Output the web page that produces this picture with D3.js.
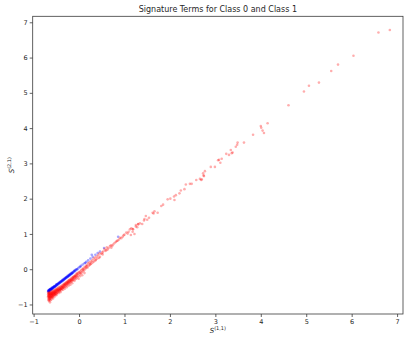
<!DOCTYPE html>
<html>
<head>
<meta charset="utf-8">
<script src="https://cdn.jsdelivr.net/npm/d3@7"></script>
<style>
  html, body { margin: 0; padding: 0; background: #fff; }
  svg { display: block; font-family: "DejaVu Sans", sans-serif; }
</style>
</head>
<body>
<svg id="chart" width="404" height="338"></svg>
<script>
// Class 0 signature terms: S(1,1) and S(2,1)
const class0X = [-0.68,-0.68,-0.67,-0.67,-0.66,-0.66,-0.65,-0.65,-0.64,-0.64,-0.63,-0.63,-0.62,-0.62,-0.61,-0.60,-0.60,-0.59,-0.58,-0.58,-0.57,-0.56,-0.55,-0.55,-0.54,-0.53,-0.52,-0.51,-0.50,-0.50,-0.49,-0.48,-0.47,-0.46,-0.45,-0.44,-0.43,-0.42,-0.41,-0.40,-0.39,-0.38,-0.37,-0.36,-0.35,-0.34,-0.33,-0.32,-0.31,-0.30,-0.29,-0.28,-0.27,-0.26,-0.25,-0.24,-0.23,-0.22,-0.21,-0.20,-0.19,-0.18,-0.17,-0.16,-0.15,-0.14,-0.12,-0.11,-0.10,-0.08,-0.07,-0.05,-0.02,0.01,0.04,0.08,0.12,0.16,0.20,0.25,0.30,0.36,0.41,0.46,0.28,0.86,0.55,
  -0.67,-0.66,-0.65,-0.63,-0.61,-0.59,-0.57,-0.54,-0.52,-0.49,-0.46,-0.43,-0.40,-0.37,-0.34,-0.31,-0.28,-0.25,-0.22,-0.19,-0.16,-0.13,-0.09,-0.04,0.03,0.14];
const class0Y = [-0.63,-0.61,-0.62,-0.60,-0.61,-0.59,-0.60,-0.58,-0.59,-0.57,-0.58,-0.56,-0.57,-0.55,-0.56,-0.55,-0.53,-0.54,-0.53,-0.51,-0.52,-0.50,-0.51,-0.49,-0.48,-0.49,-0.47,-0.46,-0.45,-0.43,-0.44,-0.42,-0.43,-0.41,-0.40,-0.38,-0.39,-0.37,-0.36,-0.34,-0.35,-0.33,-0.31,-0.32,-0.30,-0.28,-0.29,-0.27,-0.25,-0.26,-0.24,-0.22,-0.23,-0.21,-0.19,-0.20,-0.18,-0.16,-0.17,-0.15,-0.13,-0.14,-0.12,-0.10,-0.11,-0.09,-0.07,-0.06,-0.04,-0.03,-0.01,0.00,0.03,0.06,0.10,0.13,0.17,0.21,0.25,0.30,0.35,0.41,0.46,0.50,0.41,0.92,0.60,
  -0.64,-0.63,-0.62,-0.60,-0.58,-0.56,-0.54,-0.50,-0.49,-0.46,-0.43,-0.40,-0.37,-0.34,-0.31,-0.28,-0.25,-0.22,-0.19,-0.16,-0.13,-0.10,-0.06,-0.01,0.07,0.18];

// Class 1 signature terms: S(1,1) and S(2,1)
const class1X = [-0.68,-0.68,-0.68,-0.67,-0.67,-0.67,-0.66,-0.66,-0.66,-0.66,-0.65,-0.65,-0.65,-0.64,-0.64,-0.64,-0.64,-0.63,-0.63,-0.63,-0.62,-0.62,-0.62,-0.61,-0.61,-0.61,-0.60,-0.60,-0.60,-0.59,-0.59,-0.59,-0.58,-0.58,-0.58,-0.57,-0.57,-0.57,-0.56,-0.56,-0.56,-0.55,-0.55,-0.54,-0.54,-0.54,-0.53,-0.53,-0.52,-0.52,-0.52,-0.51,-0.51,-0.50,-0.50,-0.50,-0.49,-0.49,-0.48,-0.48,-0.47,-0.47,-0.46,-0.46,-0.45,-0.45,-0.44,-0.44,-0.43,-0.43,-0.42,-0.42,-0.41,-0.41,-0.40,-0.40,-0.39,-0.39,-0.38,-0.38,-0.37,-0.36,-0.36,-0.35,-0.35,-0.34,-0.34,-0.33,-0.32,-0.32,-0.31,-0.31,-0.30,-0.30,-0.29,-0.28,-0.28,-0.27,-0.27,-0.26,-0.26,-0.25,-0.24,-0.24,-0.23,-0.23,-0.22,-0.22,-0.21,-0.20,-0.20,-0.19,-0.19,-0.18,-0.18,-0.17,-0.16,-0.16,-0.15,-0.15,-0.14,-0.14,-0.13,-0.12,-0.12,-0.11,-0.10,-0.10,-0.09,-0.08,-0.08,-0.07,-0.06,-0.06,-0.05,-0.04,-0.03,-0.02,-0.02,-0.01,0.00,0.01,0.02,0.03,0.04,0.05,0.06,0.07,0.08,0.09,0.10,0.11,0.12,0.13,0.14,0.15,0.16,0.18,0.19,0.20,0.22,0.23,0.24,0.26,0.27,0.29,0.30,0.32,0.33,0.35,0.37,0.39,0.40,0.42,0.45,0.46,0.49,0.51,0.53,0.56,0.58,0.61,0.63,0.65,0.68,0.70,0.73,0.75,0.78,0.81,0.83,0.85,0.88,0.90,0.93,0.96,0.98,1.00,1.04,1.07,1.09,1.12,1.14,1.15,1.18,1.18,1.19,1.22,1.25,1.25,1.28,1.30,1.30,1.34,1.39,1.43,1.44,1.47,1.50,1.54,1.62,1.64,1.66,1.73,1.81,1.85,1.95,2.01,2.09,2.10,2.13,2.21,2.24,2.32,2.35,2.44,2.48,2.58,2.66,2.69,2.70,2.73,2.74,2.75,2.77,2.90,2.99,3.06,3.08,3.11,3.14,3.24,3.30,3.34,3.36,3.38,3.45,3.48,3.49,3.63,3.83,4.00,4.01,4.04,4.07,4.15,4.61,4.95,5.06,5.28,5.55,5.70,6.04,6.59,6.84,
  -0.68,-0.67,-0.67,-0.66,-0.66,-0.65,-0.65,-0.64,-0.63,-0.63,-0.62,-0.61,-0.61,-0.60,-0.59,-0.58,-0.57,-0.56,-0.55,-0.54,-0.53,-0.52,-0.51,-0.49,-0.48,-0.46,-0.45,-0.43,-0.41,-0.39,-0.37,-0.35,-0.33,-0.30,-0.27,-0.24,-0.21,-0.17,-0.13,-0.09,-0.05,0.02,0.09,0.17,0.25,0.36,0.44,0.52,0.60,0.71];
const class1Y = [-0.66,-0.72,-0.80,-0.69,-0.76,-0.85,-0.67,-0.74,-0.82,-0.90,-0.70,-0.78,-0.86,-0.66,-0.73,-0.81,-0.94,-0.68,-0.76,-0.84,-0.64,-0.71,-0.79,-0.67,-0.74,-0.86,-0.63,-0.70,-0.78,-0.66,-0.73,-0.81,-0.62,-0.69,-0.76,-0.65,-0.72,-0.83,-0.61,-0.68,-0.75,-0.64,-0.71,-0.59,-0.67,-0.78,-0.62,-0.70,-0.58,-0.65,-0.73,-0.61,-0.68,-0.56,-0.64,-0.74,-0.59,-0.67,-0.55,-0.62,-0.58,-0.66,-0.53,-0.61,-0.57,-0.68,-0.52,-0.60,-0.55,-0.63,-0.50,-0.58,-0.54,-0.65,-0.49,-0.57,-0.52,-0.60,-0.47,-0.55,-0.51,-0.45,-0.54,-0.49,-0.58,-0.43,-0.52,-0.47,-0.41,-0.50,-0.45,-0.55,-0.39,-0.48,-0.43,-0.37,-0.46,-0.41,-0.51,-0.35,-0.44,-0.39,-0.33,-0.42,-0.37,-0.47,-0.31,-0.40,-0.35,-0.29,-0.38,-0.33,-0.44,-0.27,-0.36,-0.31,-0.25,-0.34,-0.29,-0.40,-0.23,-0.32,-0.27,-0.21,-0.30,-0.25,-0.19,-0.33,-0.23,-0.17,-0.28,-0.21,-0.15,-0.26,-0.19,-0.13,-0.22,-0.10,-0.17,-0.27,-0.08,-0.14,-0.20,-0.06,-0.12,-0.02,-0.09,-0.17,0.00,-0.06,0.04,-0.03,-0.11,0.06,0.01,0.10,0.04,0.12,0.05,0.17,0.10,0.19,0.13,0.22,0.16,0.25,0.19,0.30,0.22,0.33,0.27,0.36,0.30,0.40,0.45,0.35,0.44,0.47,0.50,0.57,0.52,0.62,0.56,0.60,0.65,0.68,0.66,0.70,0.74,0.77,0.80,0.81,0.84,0.89,0.88,0.92,0.96,0.98,1.04,1.01,1.06,1.13,0.97,1.16,1.14,1.06,1.13,1.00,1.21,1.25,1.19,1.27,1.28,1.30,1.28,1.38,1.42,1.51,1.40,1.46,1.60,1.58,1.64,1.60,1.79,1.83,1.98,2.00,2.06,1.96,2.10,2.15,2.23,2.27,2.40,2.42,2.42,2.53,2.56,2.53,2.55,2.72,2.66,2.64,2.78,2.90,2.90,3.09,3.10,3.02,3.13,3.27,3.24,3.38,3.29,3.31,3.47,3.53,3.59,3.59,3.81,4.06,4.01,3.93,3.86,4.14,4.65,5.04,5.20,5.29,5.62,5.80,6.05,6.71,6.78,
  -0.77,-0.71,-0.88,-0.79,-0.69,-0.83,-0.75,-0.71,-0.79,-0.88,-0.73,-0.69,-0.80,-0.75,-0.70,-0.78,-0.68,-0.74,-0.66,-0.72,-0.66,-0.69,-0.63,-0.70,-0.60,-0.64,-0.59,-0.60,-0.56,-0.56,-0.49,-0.52,-0.44,-0.42,-0.38,-0.36,-0.32,-0.29,-0.24,-0.20,-0.12,-0.10,0.00,0.08,0.14,0.25,0.32,0.42,0.54,0.61];

const xTicks = [-1, 0, 1, 2, 3, 4, 5, 6, 7];
const yTicks = [-1, 0, 1, 2, 3, 4, 5, 6, 7];
const titleText = "Signature Terms for Class 0 and Class 1";

const svg = d3.select("#chart");
const W = 404, H = 338;
const m = { left: 32.7, right: 1, top: 16.3, bottom: 24 };
const innerL = m.left, innerR = W - m.right, innerT = m.top, innerB = H - m.bottom;

const x = d3.scaleLinear().domain([-1.02, 7.13]).range([innerL, innerR]);
const y = d3.scaleLinear().domain([-1.27, 7.17]).range([innerB, innerT]);

const textColor = "#262626";
const spineColor = "#3a3a3a";

// points
const g = svg.append("g");
const pts0 = class0X.map((v, i) => [v, class0Y[i]]);
const pts1 = class1X.map((v, i) => [v, class1Y[i]]);

g.selectAll("circle.c0").data(pts0).join("circle")
  .attr("class", "c0")
  .attr("cx", d => x(d[0])).attr("cy", d => y(d[1]))
  .attr("r", 1.3).attr("fill", "#0000ff").attr("fill-opacity", 0.35);

g.selectAll("circle.c1").data(pts1).join("circle")
  .attr("class", "c1")
  .attr("cx", d => x(d[0])).attr("cy", d => y(d[1]))
  .attr("r", 1.3).attr("fill", "#ff0000").attr("fill-opacity", 0.32);

// axes
const fmt = d => d < 0 ? "\u2212" + Math.abs(d) : d;
const xAxis = svg.append("g")
  .attr("transform", `translate(0,${innerB})`)
  .call(d3.axisBottom(x).tickValues(xTicks).tickFormat(fmt).tickSize(3).tickPadding(2));
const yAxis = svg.append("g")
  .attr("transform", `translate(${innerL},0)`)
  .call(d3.axisLeft(y).tickValues(yTicks).tickFormat(fmt).tickSize(3).tickPadding(2));

[xAxis, yAxis].forEach(a => {
  a.select(".domain").remove();
  a.selectAll("line").attr("stroke", spineColor).attr("stroke-width", 0.8);
  a.selectAll("text").attr("fill", textColor).style("font-size", "6.5px").style("font-family", "DejaVu Sans, sans-serif");
});

// frame
svg.append("rect")
  .attr("x", innerL).attr("y", innerT)
  .attr("width", innerR - innerL).attr("height", innerB - innerT)
  .attr("fill", "none").attr("stroke", spineColor).attr("stroke-width", 0.8);

// title
svg.append("text")
  .attr("x", (innerL + innerR) / 2).attr("y", 12)
  .attr("text-anchor", "middle").attr("fill", textColor)
  .style("font-size", "8px")
  .text(titleText);

// axis labels: S^(1,1) and S^(2,1)
const xl = svg.append("text")
  .attr("x", (innerL + innerR) / 2).attr("y", 333)
  .attr("text-anchor", "middle").attr("fill", textColor)
  .style("font-size", "7px");
xl.append("tspan").style("font-style", "italic").text("S");
xl.append("tspan").attr("dy", -3).style("font-size", "5px").text("(1,1)");

const yl = svg.append("text")
  .attr("transform", `translate(14,${(innerT + innerB) / 2}) rotate(-90)`)
  .attr("text-anchor", "middle").attr("fill", textColor)
  .style("font-size", "7px");
yl.append("tspan").style("font-style", "italic").text("S");
yl.append("tspan").attr("dy", -3).style("font-size", "5px").text("(2,1)");
</script>
</body>
</html>
